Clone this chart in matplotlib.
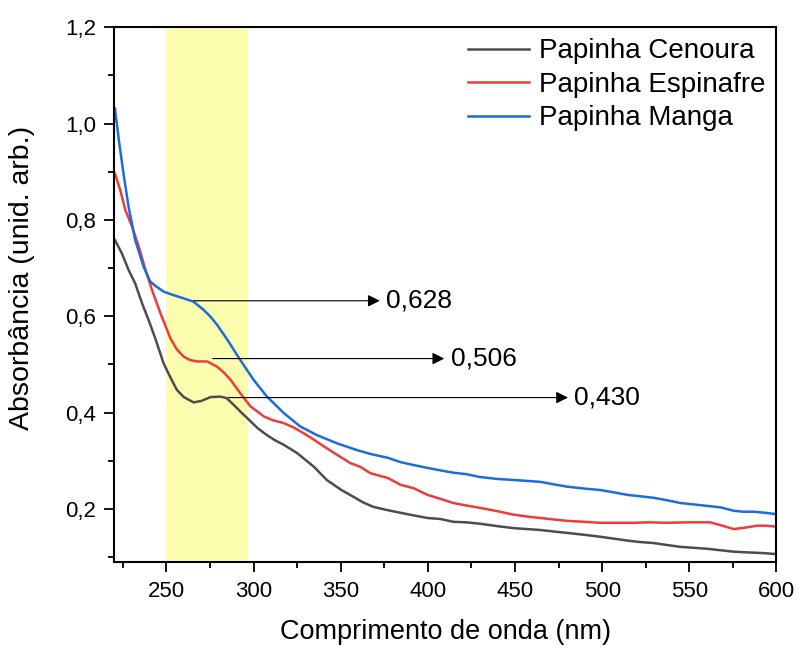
import matplotlib.pyplot as plt
from matplotlib.ticker import MultipleLocator, FuncFormatter

plt.rcParams['font.family'] = ['Liberation Sans', 'DejaVu Sans']

# wavelength (nm) / absorbance
cenouraX = [220.5, 224.5, 228.3, 232.1, 236, 239.8, 243.6, 248.4, 252, 256, 260, 265.6,
            270, 275.3, 281, 284.5, 288.6, 293, 298.2, 302.5, 307.7, 312, 317.3, 324.9,
            334.4, 342, 350, 357.3, 363, 368.8, 376, 384, 391, 399.8, 407, 414.7, 422,
            430, 440, 449, 457, 464.6, 472, 480, 490, 499, 507, 514.5, 522, 529.4, 537,
            545, 553, 560.4, 568, 575.5, 581, 587, 593, 600]
cenouraY = [0.758, 0.730, 0.696, 0.668, 0.627, 0.592, 0.554, 0.502, 0.475, 0.447, 0.432,
            0.421, 0.424, 0.432, 0.433, 0.43, 0.416, 0.4, 0.382, 0.367, 0.353, 0.343,
            0.333, 0.316, 0.288, 0.26, 0.24, 0.225, 0.213, 0.204, 0.198, 0.192, 0.187,
            0.181, 0.179, 0.173, 0.172, 0.169, 0.164, 0.16, 0.158, 0.156, 0.153, 0.15,
            0.146, 0.142, 0.138, 0.134, 0.131, 0.129, 0.125, 0.121, 0.119, 0.117, 0.114,
            0.111, 0.11, 0.109, 0.108, 0.106]

espinafreX = [220.5, 223.6, 226.5, 230.3, 234.2, 238, 241.8, 246.6, 252.3, 256, 259.9,
              263.5, 267.6, 273.4, 279.1, 283, 286.8, 292.4, 298.2, 305.8, 311, 317.3,
              323, 328.7, 334, 340.2, 348, 355.5, 361.4, 367, 377, 384.3, 391.7, 399.8,
              407, 414.7, 422, 430, 440, 449, 457, 464.6, 472, 480, 490, 499, 508, 518,
              527, 537, 550, 562, 568, 575.5, 582, 589, 594, 600]
espinafreY = [0.896, 0.861, 0.82, 0.786, 0.744, 0.696, 0.654, 0.606, 0.554, 0.531, 0.516,
              0.509, 0.506, 0.506, 0.495, 0.483, 0.468, 0.44, 0.413, 0.392, 0.384, 0.378,
              0.369, 0.357, 0.345, 0.33, 0.312, 0.295, 0.287, 0.274, 0.264, 0.25, 0.243,
              0.229, 0.221, 0.212, 0.207, 0.202, 0.195, 0.188, 0.184, 0.181, 0.178, 0.175,
              0.173, 0.171, 0.171, 0.171, 0.172, 0.171, 0.172, 0.172, 0.166, 0.158, 0.161,
              0.165, 0.165, 0.163]

mangaX = [220.5, 222.7, 225.4, 228.3, 232.1, 236.9, 240.7, 244, 248.4, 253, 259.9, 265.6,
          271.4, 275.3, 279.1, 284.8, 292.4, 300, 307.7, 317.3, 326.8, 336.4, 347.9,
          359.3, 367, 377, 384.3, 391.7, 399.8, 407, 414.7, 422, 430, 440, 449, 457,
          464.6, 472, 480, 490, 499, 507, 514.5, 522, 529.4, 537, 545, 553, 560.4, 568,
          575.5, 581, 587, 593, 600]
mangaY = [1.031, 0.966, 0.896, 0.827, 0.758, 0.703, 0.672, 0.662, 0.651, 0.645, 0.637,
          0.63, 0.613, 0.599, 0.582, 0.552, 0.509, 0.468, 0.433, 0.399, 0.371, 0.353,
          0.336, 0.322, 0.314, 0.306, 0.297, 0.291, 0.285, 0.28, 0.275, 0.272, 0.266,
          0.262, 0.26, 0.258, 0.256, 0.251, 0.246, 0.242, 0.239, 0.234, 0.229, 0.226,
          0.223, 0.218, 0.212, 0.209, 0.206, 0.203, 0.196, 0.194, 0.194, 0.192, 0.189]

# start wavelength, value, arrow end wavelength, label
peakX = [264, 275, 284]
peakY = [0.632, 0.512, 0.431]
arrowEnd = [374, 411, 482]
peakLabels = ['0,628', '0,506', '0,430']

fig, ax = plt.subplots(figsize=(7.98, 6.48), dpi=100)
fig.subplots_adjust(left=0.143, right=0.973, top=0.958, bottom=0.133)

ax.axvspan(250, 297, color='#fdfdb0', zorder=0, lw=0)

ax.plot(cenouraX, cenouraY, color='#4d4d4d', lw=1.8, label='Papinha Cenoura')
ax.plot(espinafreX, espinafreY, color='#ef3b3b', lw=1.8, label='Papinha Espinafre')
ax.plot(mangaX, mangaY, color='#1c6cdc', lw=1.8, label='Papinha Manga')

for x0, y0, x1, lab in zip(peakX, peakY, arrowEnd, peakLabels):
    ax.annotate('', xy=(x1, y0), xytext=(x0, y0),
                arrowprops=dict(arrowstyle='-|>', color='black', lw=0.8, mutation_scale=18))
    ax.text(x1 + 2, y0, lab, fontsize=19, va='center', ha='left')

ax.set_xlim(220, 600)
ax.set_ylim(0.09, 1.2)
ax.xaxis.set_major_locator(MultipleLocator(50))
ax.xaxis.set_minor_locator(MultipleLocator(25))
ax.yaxis.set_major_locator(MultipleLocator(0.2))
ax.yaxis.set_minor_locator(MultipleLocator(0.1))
ax.yaxis.set_major_formatter(FuncFormatter(lambda v, p: f'{v:.1f}'.replace('.', ',')))
ax.tick_params(which='major', length=7, width=1.3, labelsize=16)
ax.tick_params(which='minor', length=4.5, width=1.3)
ax.tick_params(axis='x', which='major', pad=7)
ax.tick_params(axis='y', which='major', pad=6)
for s in ax.spines.values():
    s.set_linewidth(1.5)

ax.set_xlabel('Comprimento de onda (nm)', fontsize=19.5, labelpad=12)
ax.set_ylabel('Absorbância (unid. arb.)', fontsize=20.5)
ax.yaxis.set_label_coords(-0.119, 0.531)

ax.legend(loc='upper right', frameon=False, fontsize=20, handlelength=2.2,
          handletextpad=0.35, labelspacing=0.27, borderaxespad=0.1, borderpad=0.3)

fig.savefig('out.png')
